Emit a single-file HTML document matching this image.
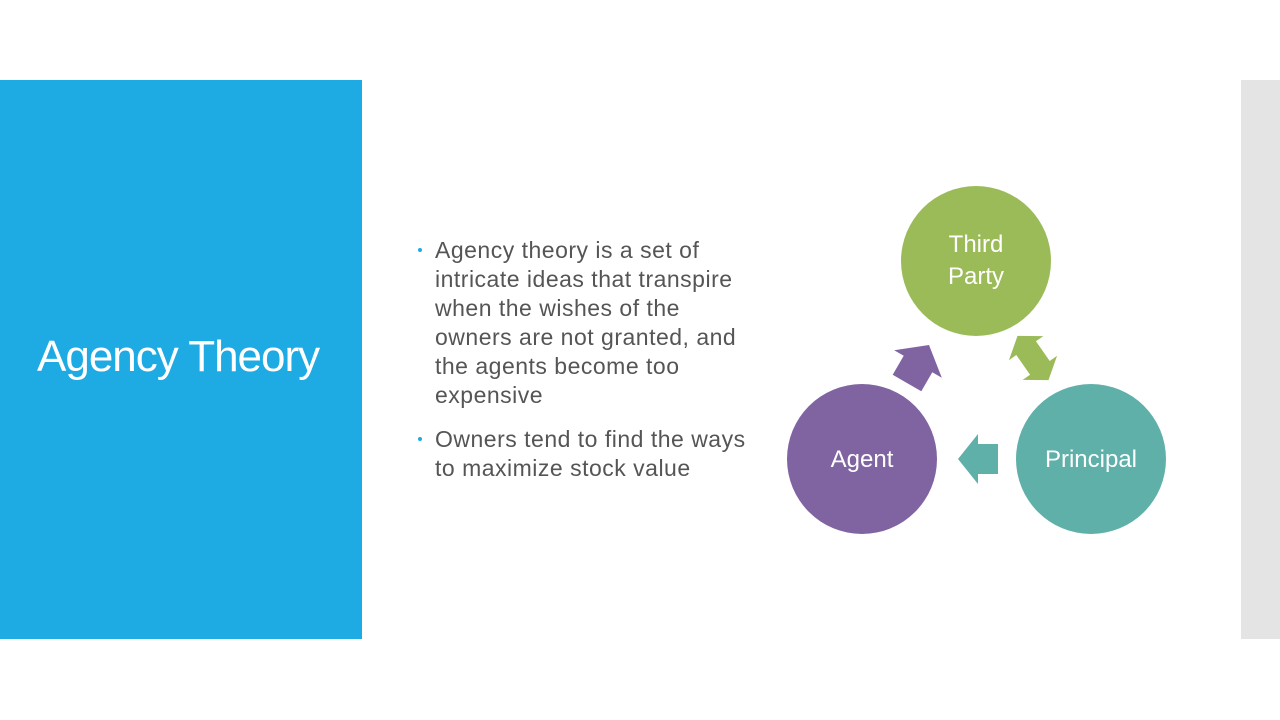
<!DOCTYPE html>
<html><head><meta charset="utf-8"><style>
body{margin:0;width:1280px;height:720px;background:#fff;position:relative;overflow:hidden;font-family:"Liberation Sans",sans-serif}
.blue{position:absolute;left:0;top:80px;width:362px;height:559px;background:#1eabe3}
.title{position:absolute;left:37px;top:332px;color:#fff;font-size:44px;letter-spacing:-1px}
.gray{position:absolute;left:1241px;top:80px;width:39px;height:559px;background:#e4e4e4}
ul{position:absolute;left:417px;top:236px;width:360px;margin:0;padding:0;list-style:none;color:#555;font-size:23px;line-height:29px;white-space:nowrap;letter-spacing:0.5px}
li{position:relative;padding-left:18px;margin-bottom:15px}
li:before{content:"";position:absolute;left:1px;top:12px;width:4px;height:4px;background:#1eabe3;border-radius:50%}
</style></head><body>
<div class="blue"></div><div class="title">Agency Theory</div>
<div class="gray"></div>
<ul><li>Agency theory is a set of<br>intricate ideas that transpire<br>when the wishes of the<br>owners are not granted, and<br>the agents become too<br>expensive</li>
<li>Owners tend to find the ways<br>to maximize stock value</li></ul>
<svg width="1280" height="720" style="position:absolute;left:0;top:0" font-family="Liberation Sans, sans-serif">
<circle cx="976" cy="261" r="75" fill="#9bbb59"/>
<circle cx="862" cy="459" r="75" fill="#8064a2"/>
<circle cx="1091" cy="459" r="75" fill="#5fb0a8"/>
<text x="976" y="252" fill="#fff" font-size="24" text-anchor="middle">Third</text>
<text x="976" y="284" fill="#fff" font-size="24" text-anchor="middle">Party</text>
<text x="862" y="467" fill="#fff" font-size="24" text-anchor="middle">Agent</text>
<text x="1091" y="467" fill="#fff" font-size="24" text-anchor="middle">Principal</text>
<g transform="translate(978,459)"><polygon points="-20,0 0,-25 0,-15 20,-15 20,15 0,15 0,25" fill="#5fb0a8"/></g>
<g transform="translate(918,364) rotate(120) scale(1.1)"><polygon points="-20,0 0,-25 0,-15 20,-15 20,15 0,15 0,25" fill="#8064a2"/></g>
<g transform="translate(1033,358) rotate(55)"><polygon points="-27,0 -12,-21 -12,-12 12,-12 12,-21 27,0 12,21 12,12 -12,12 -12,21" fill="#9bbb59"/></g>
</svg>
</body></html>
